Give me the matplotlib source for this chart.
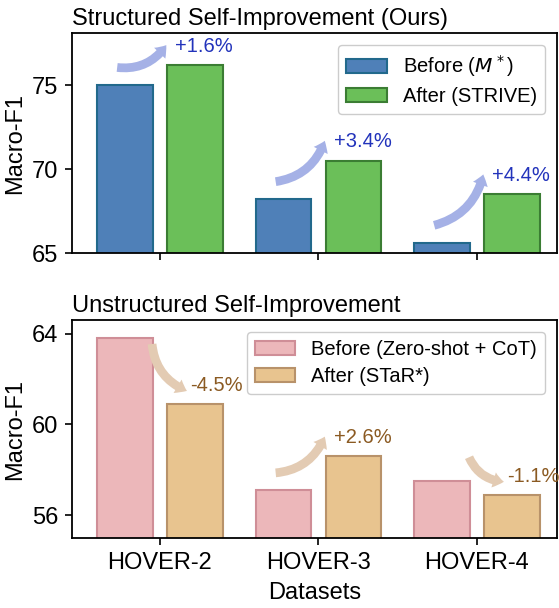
import matplotlib
matplotlib.use("Agg")
import matplotlib.pyplot as plt
from matplotlib.patches import FancyArrowPatch
import numpy as np

# ================= DATA =================

datasets = ["HOVER-2", "HOVER-3", "HOVER-4"]

strive_before = [75.0, 68.2, 65.6]
strive_after = [76.2, 70.5, 68.5]
strive_delta = ["+1.6%", "+3.4%", "+4.4%"]

star_before = [63.8, 57.1, 57.5]
star_after = [60.9, 58.6, 56.9]
star_delta = ["-4.5%", "+2.6%", "-1.1%"]

# ================= STYLE =================

plt.rcParams["font.family"] = ["Liberation Sans", "DejaVu Sans"]
plt.rcParams["mathtext.fontset"] = "dejavusans"

fig = plt.figure(figsize=(5.59, 6.08), dpi=100)

ax1 = fig.add_axes([72 / 559, 1 - 253 / 608, 485 / 559, 220 / 608])
ax2 = fig.add_axes([72 / 559, 1 - 538 / 608, 485 / 559, 218 / 608])

x = np.arange(len(datasets))
width = 0.35
off = 0.22


def draw_panel(ax, before, after, deltas, c_before, e_before, c_after, e_after,
               arrow_color, text_color, lab_before, lab_after, ylim, yticks, title):
    ax.bar(x - off, before, width, color=c_before, edgecolor=e_before,
           linewidth=1.5, label=lab_before)
    ax.bar(x + off, after, width, color=c_after, edgecolor=e_after,
           linewidth=1.5, label=lab_after)
    ax.set_ylim(*ylim)
    ax.set_xlim(-0.555, 2.505)
    ax.set_yticks(yticks)
    span = ylim[1] - ylim[0]

    for i in range(len(x)):
        b, a = before[i], after[i]
        if a >= b:
            start = (i - 0.27, b + 0.08 * span)
            end = (i + 0.04, a + 0.09 * span)
            tx = i + 0.095
        else:
            sy = min(b + 0.11 * span, ylim[1] - 0.11 * span)
            start = (i - 0.05, sy)
            end = (i + 0.17, a + 0.06 * span)
            tx = i + 0.19
        arr = FancyArrowPatch(
            start, end,
            connectionstyle="arc3,rad=0.3",
            arrowstyle="simple,head_width=0.75,head_length=0.5,tail_width=0.42",
            mutation_scale=15,
            color=arrow_color,
            linewidth=0,
            shrinkA=0, shrinkB=0,
        )
        ax.add_patch(arr)
        ax.text(tx, a + 0.085 * span, deltas[i], color=text_color,
                fontsize=14.5, ha="left", va="center")

    ax.set_ylabel("Macro-F1", fontsize=17)
    ax.set_title(title, loc="left", fontsize=17, pad=6)
    ax.tick_params(axis="both", labelsize=17, width=1.2, length=5, pad=5)
    for s in ax.spines.values():
        s.set_linewidth(1.3)
    ax.legend(loc="upper right", fontsize=14.5, framealpha=1,
              edgecolor="#cccccc", borderaxespad=0.6, handletextpad=0.8,
              labelspacing=0.4)


draw_panel(ax1, strive_before, strive_after, strive_delta,
           "#4f80b8", "#22698c", "#6bbf59", "#3b7d33",
           "#a5b1e6", "#2233bb",
           r"Before ($M^*$)", "After (STRIVE)",
           (65, 78.1), [65, 70, 75],
           "Structured Self-Improvement (Ours)")

draw_panel(ax2, star_before, star_after, star_delta,
           "#ecb7ba", "#cf8e97", "#e8c48f", "#b8926a",
           "#e3cbb3", "#8b5a22",
           "Before (Zero-shot + CoT)", "After (STaR*)",
           (55, 64.6), [56, 60, 64],
           "Unstructured Self-Improvement")

ax1.set_xticks(x)
ax1.set_xticklabels([])
ax2.set_xticks(x)
ax2.set_xticklabels(datasets)
ax2.set_xlabel("Datasets", fontsize=17, labelpad=6)

fig.savefig("out.png", dpi=100)
